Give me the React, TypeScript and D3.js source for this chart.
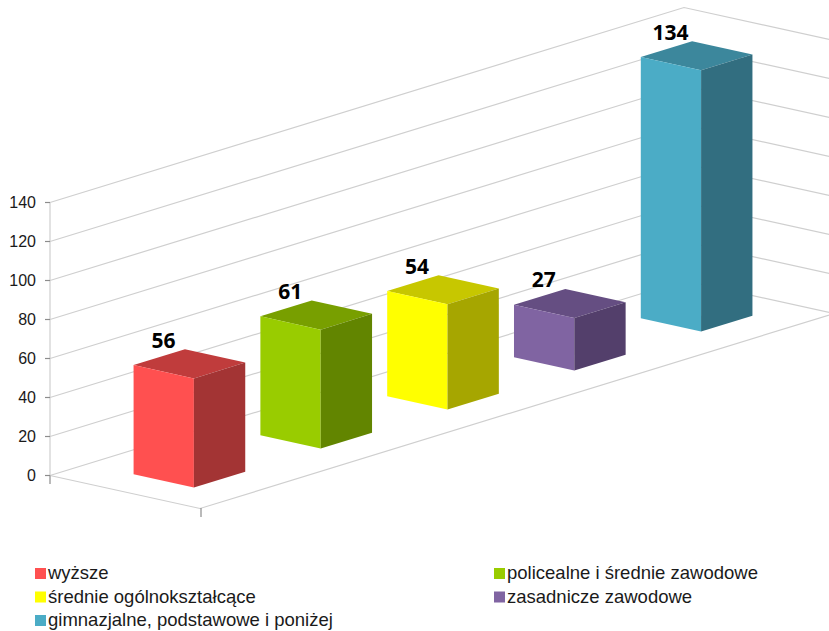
import React from "react";
import * as d3 from "d3";

const categories = ["wyższe", "policealne i średnie zawodowe", "średnie ogólnokształcące", "zasadnicze zawodowe", "gimnazjalne, podstawowe i poniżej"];
const values = [56, 61, 54, 27, 134];
const yTicks = [0, 20, 40, 60, 80, 100, 120, 140];
const frontColors = ["#FF5050", "#99CC00", "#FFFF00", "#8064A2", "#4BACC6"];
const sideColors = ["#A33434", "#628500", "#A6A600", "#533F6B", "#326E80"];
const topColors = ["#C03C3C", "#789F00", "#C7C700", "#654E82", "#3C879C"];
const legendRows = [0, 0, 1, 1, 2];
const legendCols = [0, 1, 0, 1, 0];

const y = d3.scaleLinear().domain([0, 140]).range([0, 273]);
const u = d3.scaleBand<string>().domain(categories).range([-0.001, 0.999]).paddingInner(0.595).paddingOuter(0.2975);
const O = [50, 475.5];
const CAT = [634, -195];
const DEP = [150, 33];
const project = (a: number, d: number, v: number): [number, number] => [
  O[0] + a * CAT[0] + d * DEP[0],
  O[1] + a * CAT[1] + d * DEP[1] - y(v),
];
const line = d3.line();
const poly = (pts: [number, number][]) => line(pts)! + "Z";
const D0 = 0.31;
const D1 = 0.712;
const GRID = "#cfcfcf";
const TICK = "#8c8c8c";

export default function App() {
  return (
    <svg width={829} height={631} style={{ position: "absolute", left: 0, top: 0, background: "#fff" }}>
      <g fill="none" stroke={GRID} strokeWidth={1.2}>
        {yTicks.map((t) => (
          <path key={t} d={line([project(0, 0, t), project(1, 0, t), project(1, 1, t)])!} />
        ))}
        <path d={line([project(0, 0, 0), project(0, 0, 140)])!} />
        <path d={line([project(0, 0, 0), project(0, 1, 0), project(1, 1, 0)])!} />
      </g>
      <g stroke={TICK} strokeWidth={1.2}>
        {yTicks.map((t) => {
          const [px, py] = project(0, 0, t);
          return <line key={t} x1={px - 5} x2={px} y1={py} y2={py} />;
        })}
        <line x1={50} x2={50} y1={475.5} y2={484} />
        <line x1={201} x2={201} y1={508} y2={517} />
      </g>
      <g fontFamily="'Liberation Sans', Arial, sans-serif" fontSize={16} fill="#1a1a1a" textAnchor="end">
        {yTicks.map((t) => {
          const [, py] = project(0, 0, t);
          return (
            <text key={t} x={36} y={py + 5.5}>
              {t}
            </text>
          );
        })}
      </g>
      {categories.map((c, i) => {
        const a0 = u(c)!;
        const a1 = a0 + u.bandwidth();
        const v = values[i];
        const top: [number, number][] = [project(a0, D0, v), project(a0, D1, v), project(a1, D1, v), project(a1, D0, v)];
        const front: [number, number][] = [project(a0, D0, v), project(a0, D1, v), project(a0, D1, 0), project(a0, D0, 0)];
        const side: [number, number][] = [project(a0, D1, v), project(a1, D1, v), project(a1, D1, 0), project(a0, D1, 0)];
        const [lx, ly] = project((a0 + a1) / 2, (D0 + D1) / 2, v);
        return (
          <g key={c}>
            <path d={poly(top)} fill={topColors[i]} />
            <path d={poly(front)} fill={frontColors[i]} />
            <path d={poly(side)} fill={sideColors[i]} />
            <text x={lx - 26} y={ly - 16} textAnchor="middle" fontFamily="'Open Sans', 'Noto Sans', sans-serif" fontWeight={700} fontSize={21} fill="#000">
              {v}
            </text>
          </g>
        );
      })}
      <g fontFamily="'Liberation Sans', Arial, sans-serif" fontSize={18.5} fill="#1a1a1a">
        {categories.map((c, i) => {
          const ly = 573 + legendRows[i] * 23.5;
          const lx = legendCols[i] === 0 ? 35 : 494;
          return (
            <g key={c}>
              <rect x={lx} y={ly - 5} width={11} height={11} fill={frontColors[i]} />
              <text x={lx + 13} y={ly + 6}>
                {c}
              </text>
            </g>
          );
        })}
      </g>
    </svg>
  );
}
